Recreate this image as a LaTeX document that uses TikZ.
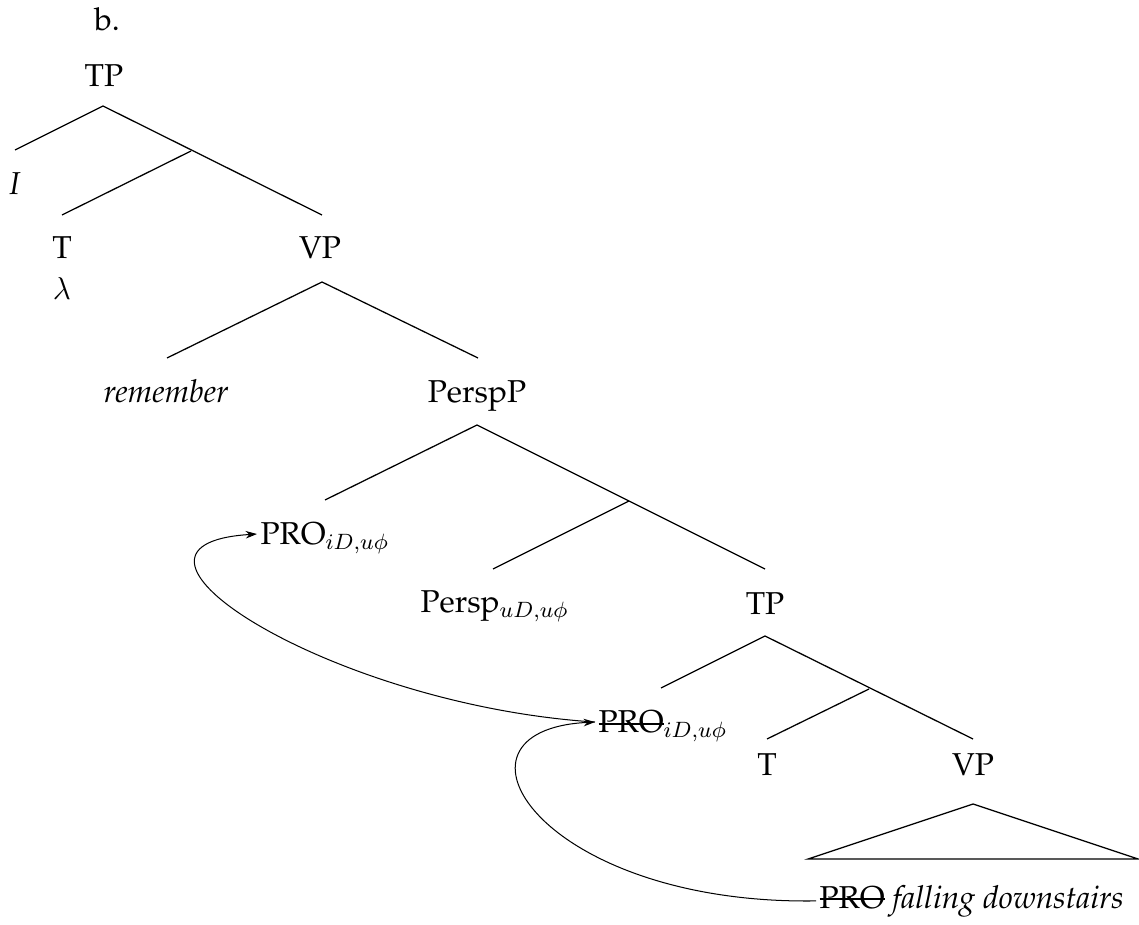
\RequirePackage{fix-cm}
\documentclass[tikz,border=0pt,12pt]{standalone}
\usepackage[T1]{fontenc}
\usepackage{palatino}
\usetikzlibrary{arrows.meta}
\newcommand\strk[1]{\setbox0\hbox{#1}\rlap{\rule[3.1pt]{\wd0}{0.9pt}}\box0\relax}
\begin{document}
\begin{tikzpicture}[x=0.395pt,y=-0.395pt,
  font={\fontsize{12.5}{15}\selectfont},
  lbl/.style={inner sep=0pt,anchor=base},
  pro/.style={inner sep=1.2pt,anchor=base west,text depth=0pt},
  arr/.style={-{Stealth[length=4.5pt,width=3pt]},line width=0.4pt},
  branch/.style={line width=0.5pt}]
\useasboundingbox (0,0) rectangle (1139,925);
% labels
\node[lbl] (b) at (107,31) {b.};
\node[lbl] (tp1) at (104,87) {TP};
\node[lbl] (i) at (15,195) {\textit{I}};
\node[lbl] (t1) at (62,259) {T};
\node[lbl] (vp1) at (320,259) {VP};
\node[lbl] (lam) at (62,300) {$\lambda$};
\node[lbl] (rem) at (166,403) {\textit{remember}};
\node[lbl] (perspp) at (477,403) {PerspP};
\node[pro] (pro) at (257,545) {PRO$_{iD,u\phi}$};
\node[lbl,anchor=base west] (persp) at (420,613) {Persp$_{uD,u\phi}$};
\node[lbl] (tp2) at (765,615) {TP};
\node[pro] (cpro) at (595,733) {\strk{PRO}$_{iD,u\phi}$};
\node[lbl] (t2) at (767,776) {T};
\node[lbl] (vp2) at (973,776) {VP};
\node[inner sep=1.2pt,anchor=base west] (lpro) at (816,908) {\strk{PRO} \textit{falling downstairs}};
% branch points
\coordinate (a1) at (103,106);
\coordinate (l1) at (15,150);
\coordinate (m1) at (191,151);
\coordinate (r1) at (322,215);
\coordinate (ml1) at (62,215);
\coordinate (a2) at (322,282);
\coordinate (l2) at (167,358);
\coordinate (r2) at (478,358);
\coordinate (a3) at (477,425);
\coordinate (l3) at (325,500);
\coordinate (m3) at (629,501);
\coordinate (r3) at (765,569);
\coordinate (ml3) at (493,569);
\coordinate (a4) at (765,636);
\coordinate (l4) at (661,688);
\coordinate (m4) at (869,689);
\coordinate (r4) at (973,739);
\coordinate (ml4) at (767,739);
\coordinate (a5) at (973,804);
\coordinate (bl) at (808,859);
\coordinate (br) at (1138,859);
% tree lines
\draw[branch] (l1) -- (a1) -- (r1);
\draw[branch] (m1) -- (ml1);
\draw[branch] (l2) -- (a2) -- (r2);
\draw[branch] (l3) -- (a3) -- (r3);
\draw[branch] (m3) -- (ml3);
\draw[branch] (l4) -- (a4) -- (r4);
\draw[branch] (m4) -- (ml4);
\draw[branch] (a5) -- (bl) -- (br) -- cycle;
% movement arrows
\draw[arr] (cpro.west) .. controls (330,705) and (80,545) .. (pro.west);
\draw[arr] (lpro.west) .. controls (540,905) and (430,730) .. (cpro.west);
\end{tikzpicture}
\end{document}
